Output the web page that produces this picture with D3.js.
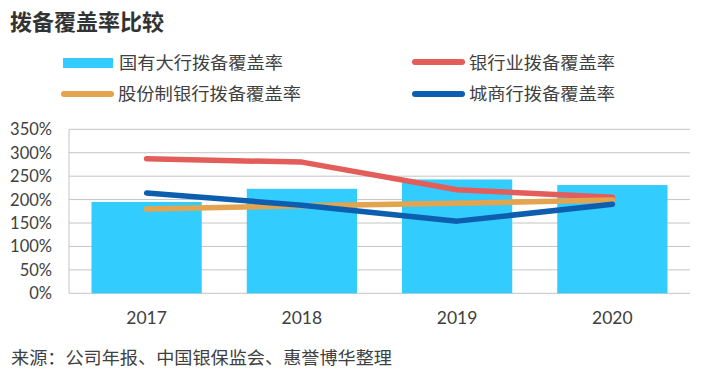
<!DOCTYPE html>
<html><head><meta charset="utf-8">
<script src="https://cdn.jsdelivr.net/npm/d3@7"></script>
<style>
body{margin:0;background:#fff;}
text{font-family:"Noto Sans CJK SC","Noto Sans",sans-serif;}
</style></head>
<body><svg id="c" width="704" height="380"></svg>
<script>
const years = ["2017","2018","2019","2020"];
const bigBanks = [1.95, 2.23, 2.43, 2.31];
const allBanks = [2.87, 2.80, 2.21, 2.05];
const jointStock = [1.80, 1.87, 1.92, 1.99];
const cityBanks = [2.14, 1.88, 1.54, 1.90];
const yTicks = [0, 0.5, 1, 1.5, 2, 2.5, 3, 3.5];
const title = "拨备覆盖率比较";
const source = "来源：公司年报、中国银保监会、惠誉博华整理";
const seriesNames = ["国有大行拨备覆盖率","银行业拨备覆盖率","股份制银行拨备覆盖率","城商行拨备覆盖率"];
const colors = {bar:"#33CCFF", red:"#E35D5B", orange:"#E2A44F", blue:"#0E5EB0"};

const svg = d3.select("#c");
const L = 69, R = 690, T = 129.3, B = 293.3;
const x = d3.scaleBand().domain(years).range([L, R]).paddingInner(0.29).paddingOuter(0.145);
const y = d3.scaleLinear().domain([0, 3.5]).range([B, T]);

// title
svg.append("text").attr("x", 10).attr("y", 30).attr("font-size", 22).attr("font-weight", "bold")
  .attr("fill", "#333").attr("textLength", 154).attr("lengthAdjust", "spacingAndGlyphs").text(title);

// gridlines
svg.append("g").selectAll("line").data(yTicks).join("line")
  .attr("x1", L).attr("x2", R).attr("y1", d => y(d)).attr("y2", d => y(d))
  .attr("stroke", "#C4C4C4").attr("stroke-width", 1);
svg.append("line").attr("x1", L).attr("x2", L).attr("y1", T).attr("y2", B)
  .attr("stroke", "#C4C4C4");

// y labels
svg.append("g").selectAll("text").data(yTicks).join("text")
  .attr("x", 52).attr("y", d => y(d)).attr("dy", "0.36em")
  .attr("text-anchor", "end").attr("font-size", 16.5).attr("fill", "#404040")
  .style("font-family", "Lato, sans-serif")
  .text(d => d3.format(".0%")(d));

// x labels
svg.append("g").selectAll("text").data(years).join("text")
  .attr("x", d => x(d) + x.bandwidth()/2).attr("y", 324)
  .attr("text-anchor", "middle").attr("font-size", 17.5).attr("fill", "#404040")
  .style("font-family", "Lato, sans-serif")
  .text(d => d);

// bars
svg.append("g").selectAll("rect").data(years).join("rect")
  .attr("x", d => x(d)).attr("width", x.bandwidth())
  .attr("y", (d,i) => y(bigBanks[i])).attr("height", (d,i) => B - y(bigBanks[i]))
  .attr("fill", colors.bar);

// lines
const line = d3.line().x((d,i) => x(years[i]) + x.bandwidth()/2).y(d => y(d));
[[allBanks, colors.red],[jointStock, colors.orange],[cityBanks, colors.blue]].forEach(([data, c]) => {
  svg.append("path").attr("d", line(data)).attr("fill", "none")
    .attr("stroke", c).attr("stroke-width", 5.5).attr("stroke-linejoin", "round").attr("stroke-linecap", "round");
});

// legend
const lg = svg.append("g");
lg.append("rect").attr("x", 63).attr("y", 58).attr("width", 50).attr("height", 10).attr("fill", colors.bar);
const legLines = [[61,114,94,colors.orange],[412,465,62,colors.red],[412,465,94,colors.blue]];
legLines.forEach(([x1,x2,yy,c]) => {
  lg.append("line").attr("x1", x1+3).attr("x2", x2-3).attr("y1", yy).attr("y2", yy)
    .attr("stroke", c).attr("stroke-width", 6).attr("stroke-linecap", "round");
});
const legText = [[119,63,seriesNames[0],164],[469,63,seriesNames[1],146],[118,94,seriesNames[2],183],[469,94,seriesNames[3],146]];
legText.forEach(([tx,ty,t,len]) => {
  lg.append("text").attr("x", tx).attr("y", ty).attr("dy", "0.36em").attr("font-size", 16.5)
    .attr("fill", "#404040").attr("textLength", len).attr("lengthAdjust", "spacingAndGlyphs").text(t);
});

// source
svg.append("text").attr("x", 11).attr("y", 364).attr("font-size", 17.5).attr("fill", "#404040")
  .attr("textLength", 381).attr("lengthAdjust", "spacingAndGlyphs").text(source);
</script></body></html>
